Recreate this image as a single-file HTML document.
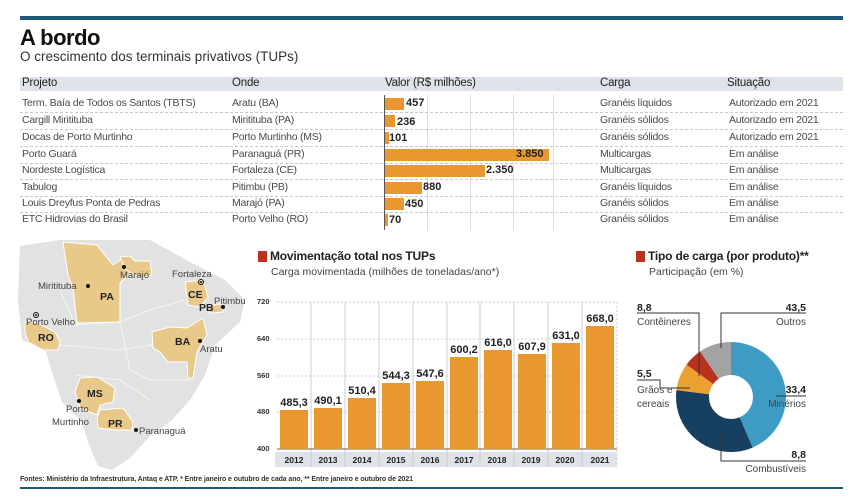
<!DOCTYPE html>
<html><head><meta charset="utf-8"><style>
body{margin:0;width:854px;height:498px;background:#fff;position:relative;overflow:hidden;font-family:"Liberation Sans",sans-serif;color:#333}
.a{position:absolute;white-space:nowrap}
.t{font-size:10.5px;letter-spacing:-0.25px;color:#4a4a4a}
.h{font-size:11.5px;color:#222;letter-spacing:-0.2px}
.dl{position:absolute;left:20px;width:823px;border-top:1px dashed #c8c8c8;height:0}
.b{position:absolute;background:#e8982e;height:12px}
.bl{position:absolute;font-size:11px;font-weight:bold;color:#222}
</style></head><body>
<div class="a" style="left:20px;top:16px;width:823px;height:4px;background:#1f5878"></div>
<div class="a" style="left:20px;top:25px;font-size:22px;font-weight:bold;color:#111;letter-spacing:-0.5px">A bordo</div>
<div class="a" style="left:20px;top:49px;font-size:13.5px;color:#333">O crescimento dos terminais privativos (TUPs)</div>
<div class="a" style="left:20px;top:77px;width:823px;height:14px;background:#dde3e9"></div>
<div class="a h" style="left:22px;top:77px">Projeto</div>
<div class="a h" style="left:232px;top:77px">Onde</div>
<div class="a h" style="left:385px;top:77px">Valor (R$ milhões)</div>
<div class="a h" style="left:600px;top:77px">Carga</div>
<div class="a h" style="left:727px;top:77px">Situação</div>
<div class="a" style="left:384px;top:95px;width:1px;height:135px;background:#555"></div>
<div class="a" style="left:427px;top:95px;width:1px;height:135px;background:#ddd"></div>
<div class="a" style="left:470px;top:95px;width:1px;height:135px;background:#ddd"></div>
<div class="a" style="left:513px;top:95px;width:1px;height:135px;background:#ddd"></div>
<div class="a" style="left:553px;top:95px;width:1px;height:135px;background:#ddd"></div>
<div class="dl" style="top:112px"></div><div class="dl" style="top:129px"></div><div class="dl" style="top:146px"></div><div class="dl" style="top:163px"></div><div class="dl" style="top:179px"></div><div class="dl" style="top:196px"></div><div class="dl" style="top:212px"></div>

<div class="a t" style="left:22px;top:97px">Term. Baía de Todos os Santos (TBTS)</div>
<div class="a t" style="left:22px;top:114px">Cargill Miritituba</div>
<div class="a t" style="left:22px;top:131px">Docas de Porto Murtinho</div>
<div class="a t" style="left:22px;top:148px">Porto Guará</div>
<div class="a t" style="left:22px;top:164px">Nordeste Logística</div>
<div class="a t" style="left:22px;top:181px">Tabulog</div>
<div class="a t" style="left:22px;top:197px">Louis Dreyfus Ponta de Pedras</div>
<div class="a t" style="left:22px;top:213px">ETC Hidrovias do Brasil</div>

<div class="a t" style="left:232px;top:97px">Aratu (BA)</div>
<div class="a t" style="left:232px;top:114px">Miritituba (PA)</div>
<div class="a t" style="left:232px;top:131px">Porto Murtinho (MS)</div>
<div class="a t" style="left:232px;top:148px">Paranaguá (PR)</div>
<div class="a t" style="left:232px;top:164px">Fortaleza (CE)</div>
<div class="a t" style="left:232px;top:181px">Pitimbu (PB)</div>
<div class="a t" style="left:232px;top:197px">Marajó (PA)</div>
<div class="a t" style="left:232px;top:213px">Porto Velho (RO)</div>

<div class="b" style="left:385px;top:98px;width:19px"></div><div class="bl" style="left:406px;top:97px">457</div>
<div class="b" style="left:385px;top:115px;width:10px"></div><div class="bl" style="left:397px;top:116px">236</div>
<div class="b" style="left:385px;top:132px;width:4px"></div><div class="bl" style="left:389px;top:132px">101</div>
<div class="b" style="left:385px;top:149px;width:164px"></div><div class="bl" style="left:516px;top:148px">3.850</div>
<div class="b" style="left:385px;top:165px;width:100px"></div><div class="bl" style="left:486px;top:164px">2.350</div>
<div class="b" style="left:385px;top:182px;width:37px"></div><div class="bl" style="left:423px;top:181px">880</div>
<div class="b" style="left:385px;top:198px;width:19px"></div><div class="bl" style="left:405px;top:198px">450</div>
<div class="b" style="left:385px;top:214px;width:3px"></div><div class="bl" style="left:389px;top:214px">70</div>

<div class="a t" style="left:600px;top:97px">Granéis líquidos</div>
<div class="a t" style="left:600px;top:114px">Granéis sólidos</div>
<div class="a t" style="left:600px;top:131px">Granéis sólidos</div>
<div class="a t" style="left:600px;top:148px">Multicargas</div>
<div class="a t" style="left:600px;top:164px">Multicargas</div>
<div class="a t" style="left:600px;top:181px">Granéis líquidos</div>
<div class="a t" style="left:600px;top:197px">Granéis sólidos</div>
<div class="a t" style="left:600px;top:213px">Granéis sólidos</div>

<div class="a t" style="left:729px;top:97px">Autorizado em 2021</div>
<div class="a t" style="left:729px;top:114px">Autorizado em 2021</div>
<div class="a t" style="left:729px;top:131px">Autorizado em 2021</div>
<div class="a t" style="left:729px;top:148px">Em análise</div>
<div class="a t" style="left:729px;top:164px">Em análise</div>
<div class="a t" style="left:729px;top:181px">Em análise</div>
<div class="a t" style="left:729px;top:197px">Em análise</div>
<div class="a t" style="left:729px;top:213px">Em análise</div>

<svg class="a" style="left:0;top:0" width="260" height="498" viewBox="0 0 260 498">
<polygon fill="#e2e2e2" points="20,246 60,240 150,240 190,262 225,280 245,300 240,322 215,345 205,375 190,400 172,420 150,436 130,458 112,470 98,466 88,442 82,422 62,402 52,372 46,352 22,340 18,300"/>
<g fill="none" stroke="#f4f4f4" stroke-width="1">
<polyline points="60,290 75,325 120,322 150,310 185,300"/><polyline points="60,345 120,350 150,345 190,330"/><polyline points="120,322 130,370 150,380 190,380"/><polyline points="75,375 120,380 150,400"/><polyline points="150,345 160,352"/>
</g>
<g fill="#e8c98a" stroke="#fff" stroke-width="1">
<polygon points="63,242 97,245 113,265 123,258 133,270 120,283 120,322 77,323 73,288 68,275"/>
<polygon points="120,257 130,256 135,261 150,261 152,275 140,278 126,270"/>
<polygon points="185,282 203,280 208,297 200,307 188,305"/>
<polygon points="208,306 222,304 223,312 210,313"/>
<polygon points="152,332 170,327 187,328 203,318 207,335 197,352 193,378 188,378 187,362 168,362 160,352 153,348"/>
<polygon points="25,322 38,323 55,332 60,342 58,350 43,350 28,342 25,332"/>
<polygon points="80,378 97,377 115,388 113,402 100,405 97,415 80,408 75,392"/>
<polygon points="100,410 123,408 133,422 132,430 115,430 98,428 97,418"/>
</g>
<g font-family="Liberation Sans" font-size="9.5" fill="#444">
<text x="38" y="289">Miritituba</text><circle cx="88" cy="286" r="2" fill="#111"/>
<text x="120" y="278">Marajó</text><circle cx="124" cy="267" r="2" fill="#111"/>
<text x="172" y="277">Fortaleza</text><circle cx="201" cy="282" r="2.5" fill="none" stroke="#111"/><circle cx="201" cy="282" r="1" fill="#111"/>
<text x="214" y="304">Pitimbu</text><circle cx="223" cy="307" r="2" fill="#111"/>
<text x="26" y="325">Porto Velho</text><circle cx="36" cy="315" r="2.5" fill="none" stroke="#111"/><circle cx="36" cy="315" r="1" fill="#111"/>
<text x="200" y="352">Aratu</text><circle cx="200" cy="341" r="2" fill="#111"/>
<text x="66" y="412">Porto</text><text x="52" y="425">Murtinho</text><circle cx="79" cy="401" r="2" fill="#111"/>
<text x="139" y="434">Paranaguá</text><circle cx="136" cy="430" r="2" fill="#111"/>
</g>
<g font-family="Liberation Sans" font-size="10.5" font-weight="bold" fill="#222">
<text x="100" y="300">PA</text><text x="188" y="298">CE</text><text x="199" y="311">PB</text><text x="175" y="345">BA</text><text x="38" y="341">RO</text><text x="87" y="397">MS</text><text x="108" y="427">PR</text>
</g>
</svg>

<div class="a" style="left:258px;top:251px;width:9px;height:11px;background:#b8321e"></div>
<div class="a" style="left:270px;top:249px;font-size:12px;font-weight:bold;color:#222;letter-spacing:-0.2px">Movimentação total nos TUPs</div>
<div class="a" style="left:271px;top:266px;font-size:10.5px;color:#444">Carga movimentada (milhões de toneladas/ano*)</div>
<svg class="a" style="left:0;top:0" width="854" height="498" viewBox="0 0 854 498">
<g stroke="#ccc" stroke-dasharray="2,2" stroke-width="1">
<line x1="277" y1="302" x2="617" y2="302"/><line x1="277" y1="339" x2="617" y2="339"/><line x1="277" y1="376" x2="617" y2="376"/><line x1="277" y1="412" x2="617" y2="412"/>
</g>
<g stroke="#ccc" stroke-width="1">
<line x1="311" y1="302" x2="311" y2="467"/><line x1="345" y1="302" x2="345" y2="467"/><line x1="379" y1="302" x2="379" y2="467"/><line x1="413" y1="302" x2="413" y2="467"/><line x1="447" y1="302" x2="447" y2="467"/><line x1="480" y1="302" x2="480" y2="467"/><line x1="514" y1="302" x2="514" y2="467"/><line x1="548" y1="302" x2="548" y2="467"/><line x1="582" y1="302" x2="582" y2="467"/><line x1="617" y1="302" x2="617" y2="467" stroke-dasharray="2,2"/>
</g>
<rect x="275" y="452" width="342" height="15" fill="#dde3e9"/>
<line x1="277" y1="449" x2="617" y2="449" stroke="#666"/>
<g fill="#e8982e">
<rect x="280" y="410" width="28" height="39"/>
<rect x="314" y="408" width="28" height="41"/>
<rect x="348" y="398" width="28" height="51"/>
<rect x="382" y="383" width="28" height="66"/>
<rect x="416" y="381" width="28" height="68"/>
<rect x="450" y="357" width="28" height="92"/>
<rect x="484" y="350" width="28" height="99"/>
<rect x="518" y="354" width="28" height="95"/>
<rect x="552" y="343" width="28" height="106"/>
<rect x="586" y="326" width="28" height="123"/>
</g>
<g stroke="#ccc"><line x1="311" y1="452" x2="311" y2="467"/><line x1="345" y1="452" x2="345" y2="467"/><line x1="379" y1="452" x2="379" y2="467"/><line x1="413" y1="452" x2="413" y2="467"/><line x1="447" y1="452" x2="447" y2="467"/><line x1="480" y1="452" x2="480" y2="467"/><line x1="514" y1="452" x2="514" y2="467"/><line x1="548" y1="452" x2="548" y2="467"/><line x1="582" y1="452" x2="582" y2="467"/></g>
<g font-family="Liberation Sans" font-size="7.5" font-weight="bold" fill="#333">
<text x="257" y="304">720</text><text x="257" y="341">640</text><text x="257" y="378">560</text><text x="257" y="414">480</text><text x="257" y="451">400</text>
</g>
<g font-family="Liberation Sans" font-size="8.5" font-weight="bold" fill="#222" text-anchor="middle">
<text x="294" y="463">2012</text><text x="328" y="463">2013</text><text x="362" y="463">2014</text><text x="396" y="463">2015</text><text x="430" y="463">2016</text><text x="464" y="463">2017</text><text x="497" y="463">2018</text><text x="531" y="463">2019</text><text x="565" y="463">2020</text><text x="600" y="463">2021</text>
</g>
<g font-family="Liberation Sans" font-size="11" font-weight="bold" fill="#222" text-anchor="middle">
<text x="294" y="406">485,3</text><text x="328" y="404">490,1</text><text x="362" y="394">510,4</text><text x="396" y="379">544,3</text><text x="430" y="377">547,6</text><text x="464" y="353">600,2</text><text x="498" y="346">616,0</text><text x="532" y="350">607,9</text><text x="566" y="339">631,0</text><text x="600" y="322">668,0</text>
</g>

<g transform="translate(731,397) rotate(-90)">
<circle r="38.5" fill="none" stroke="#3e9cc4" stroke-width="33" stroke-dasharray="105.2 241.9" stroke-dashoffset="0"/>
<circle r="38.5" fill="none" stroke="#173f5f" stroke-width="33" stroke-dasharray="80.8 241.9" stroke-dashoffset="-105.2"/>
<circle r="38.5" fill="none" stroke="#eda032" stroke-width="33" stroke-dasharray="19.3 241.9" stroke-dashoffset="-186"/>
<circle r="38.5" fill="none" stroke="#b8321e" stroke-width="33" stroke-dasharray="13.3 241.9" stroke-dashoffset="-205.3"/>
<circle r="38.5" fill="none" stroke="#a3a3a3" stroke-width="33" stroke-dasharray="23.3 241.9" stroke-dashoffset="-218.6"/>
</g>
<g stroke="#333" stroke-width="1" fill="none">
<polyline points="637,313 699,313 699,376"/>
<polyline points="806,313 721,313 721,348"/>
<polyline points="637,380 660,380 660,388 690,388"/>
<polyline points="806,396 776,396"/>
<polyline points="721,430 721,461 806,461"/>
</g>
<g font-family="Liberation Sans" font-size="10.5" font-weight="bold" fill="#222">
<text x="637" y="311">8,8</text><text x="806" y="311" text-anchor="end">43,5</text><text x="637" y="377">5,5</text><text x="806" y="393" text-anchor="end">33,4</text><text x="806" y="458" text-anchor="end">8,8</text>
</g>
<g font-family="Liberation Sans" font-size="10" fill="#444">
<text x="637" y="325">Contêineres</text><text x="806" y="325" text-anchor="end">Outros</text><text x="637" y="393">Grãos e</text><text x="637" y="407">cereais</text><text x="806" y="407" text-anchor="end">Minérios</text><text x="806" y="472" text-anchor="end">Combustíveis</text>
</g>
</svg>
<div class="a" style="left:636px;top:251px;width:9px;height:11px;background:#b8321e"></div>
<div class="a" style="left:648px;top:249px;font-size:12px;font-weight:bold;color:#222;letter-spacing:-0.2px">Tipo de carga (por produto)**</div>
<div class="a" style="left:649px;top:266px;font-size:10.5px;color:#444">Participação (em %)</div>

<div class="a" style="left:20px;top:476px;font-size:7px;font-weight:bold;color:#333;letter-spacing:-0.1px">Fontes: Ministério da Infraestrutura, Antaq e ATP. * Entre janeiro e outubro de cada ano, ** Entre janeiro e outubro de 2021</div>
<div class="a" style="left:20px;top:487px;width:823px;height:2px;background:#1f5878"></div>
</body></html>
